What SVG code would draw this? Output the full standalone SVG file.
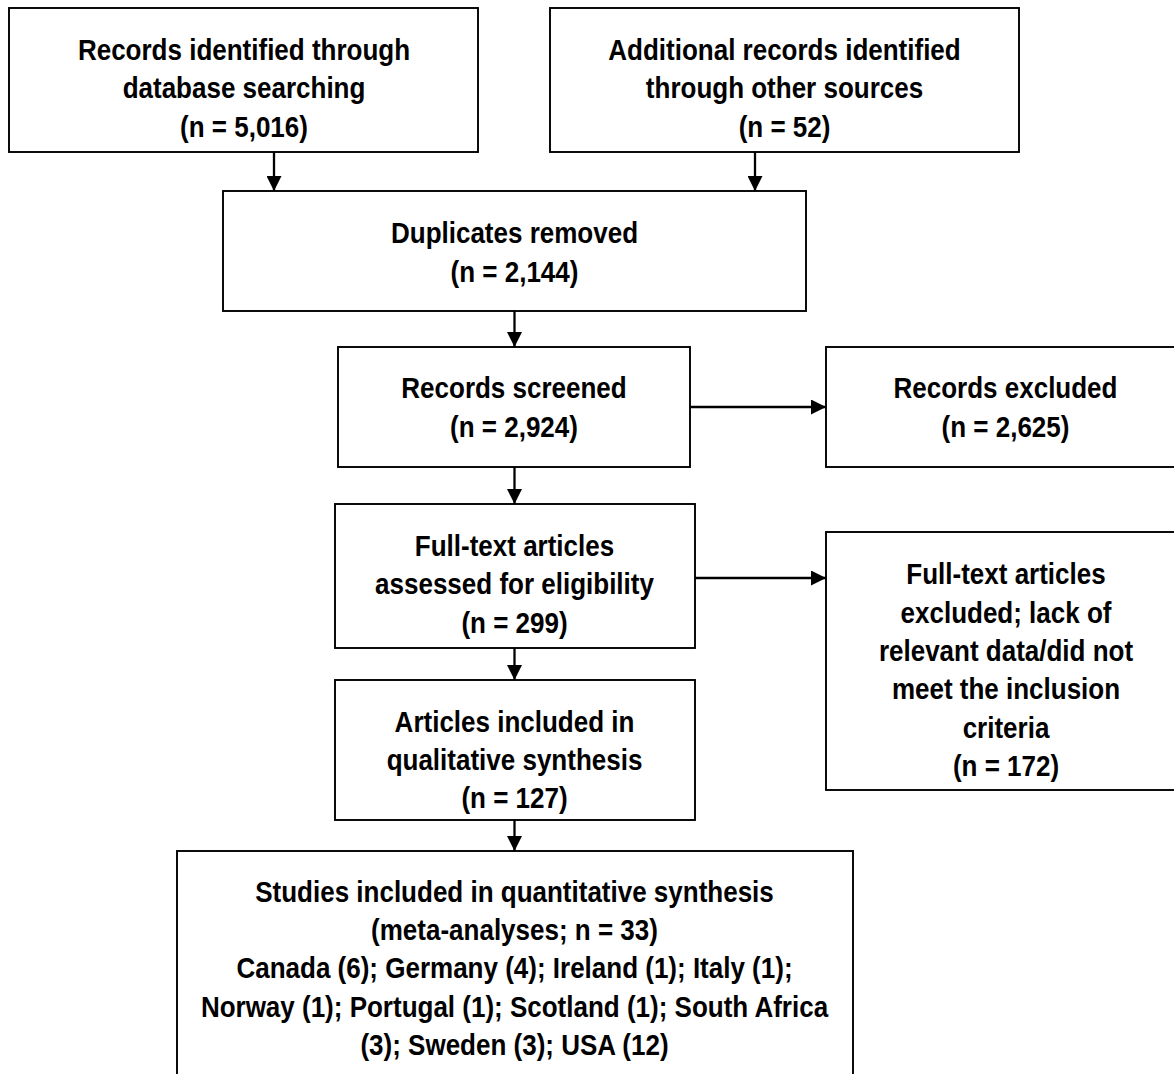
<svg xmlns="http://www.w3.org/2000/svg" width="1174" height="1074" viewBox="0 0 1174 1074">
<style>
rect.box{fill:#fff;stroke:#000;stroke-width:1.9}
text{font-family:"Liberation Sans",Arial,sans-serif;font-weight:bold;font-size:26px;fill:#000;text-anchor:middle}
.conn line{stroke:#000;stroke-width:2.3;marker-end:url(#ah)}
</style>
<defs>
<marker id="ah" markerUnits="userSpaceOnUse" markerWidth="15" markerHeight="15" refX="15" refY="7.5" orient="auto">
<path d="M0,0 L15,7.5 L0,15 z" fill="#000"/>
</marker>
</defs>
<rect width="1174" height="1074" fill="#fff"/>
<g id="n-db">
<rect class="box" x="9" y="8" width="469" height="144"/>
<text transform="matrix(1 0 0 1.13 244 60)">Records identified through</text>
<text transform="matrix(1 0 0 1.13 244 98)">database searching</text>
<text transform="matrix(1 0 0 1.13 244 136.5)">(n = 5,016)</text>
</g>
<g id="n-other">
<rect class="box" x="550" y="8" width="469" height="144"/>
<text transform="matrix(1 0 0 1.13 784.5 60)">Additional records identified</text>
<text transform="matrix(1 0 0 1.13 784.5 98)">through other sources</text>
<text transform="matrix(1 0 0 1.13 784.5 136.5)">(n = 52)</text>
</g>
<g id="n-dup">
<rect class="box" x="223" y="191" width="583" height="120"/>
<text transform="matrix(1 0 0 1.13 514.5 243)">Duplicates removed</text>
<text transform="matrix(1 0 0 1.13 514.5 281.5)">(n = 2,144)</text>
</g>
<g id="n-screened">
<rect class="box" x="338" y="347" width="352" height="120"/>
<text transform="matrix(1 0 0 1.13 514 398)">Records screened</text>
<text transform="matrix(1 0 0 1.13 514 436.5)">(n = 2,924)</text>
</g>
<g id="n-recexcl">
<rect class="box" x="826" y="347" width="360" height="120"/>
<text transform="matrix(1 0 0 1.13 1005.5 398)">Records excluded</text>
<text transform="matrix(1 0 0 1.13 1005.5 436.5)">(n = 2,625)</text>
</g>
<g id="n-fulltext">
<rect class="box" x="335" y="504" width="360" height="144"/>
<text transform="matrix(1 0 0 1.13 514.5 556)">Full-text articles</text>
<text transform="matrix(1 0 0 1.13 514.5 594.3)">assessed for eligibility</text>
<text transform="matrix(1 0 0 1.13 514.5 632.6)">(n = 299)</text>
</g>
<g id="n-ftexcl">
<rect class="box" x="826" y="532" width="360" height="258"/>
<text transform="matrix(1 0 0 1.13 1006 584.3)">Full-text articles</text>
<text transform="matrix(1 0 0 1.13 1006 622.6)">excluded; lack of</text>
<text transform="matrix(1 0 0 1.13 1006 660.9)">relevant data/did not</text>
<text transform="matrix(1 0 0 1.13 1006 699.2)">meet the inclusion</text>
<text transform="matrix(1 0 0 1.13 1006 737.5)">criteria</text>
<text transform="matrix(1 0 0 1.13 1006 775.8)">(n = 172)</text>
</g>
<g id="n-qual">
<rect class="box" x="335" y="680" width="360" height="140"/>
<text transform="matrix(1 0 0 1.13 514.5 731.5)">Articles included in</text>
<text transform="matrix(1 0 0 1.13 514.5 769.8)">qualitative synthesis</text>
<text transform="matrix(1 0 0 1.13 514.5 808.1)">(n = 127)</text>
</g>
<g id="n-quant">
<rect class="box" x="177" y="851" width="676" height="240"/>
<text transform="matrix(1 0 0 1.13 514.5 901.7)">Studies included in quantitative synthesis</text>
<text transform="matrix(1 0 0 1.13 514.5 940)">(meta-analyses; n = 33)</text>
<text transform="matrix(1 0 0 1.13 514.5 978.3)">Canada (6); Germany (4); Ireland (1); Italy (1);</text>
<text transform="matrix(1 0 0 1.13 514.5 1016.6)">Norway (1); Portugal (1); Scotland (1); South Africa</text>
<text transform="matrix(1 0 0 1.13 514.5 1054.9)">(3); Sweden (3); USA (12)</text>
</g>
<g id="connectors" class="conn">
<line x1="274" y1="152" x2="274" y2="191"/>
<line x1="755" y1="152" x2="755" y2="191"/>
<line x1="514.5" y1="311" x2="514.5" y2="347"/>
<line x1="690" y1="407" x2="826" y2="407"/>
<line x1="514.5" y1="467" x2="514.5" y2="504"/>
<line x1="695" y1="578" x2="826" y2="578"/>
<line x1="514.5" y1="648" x2="514.5" y2="680"/>
<line x1="514.5" y1="820" x2="514.5" y2="851"/>
</g>
</svg>
